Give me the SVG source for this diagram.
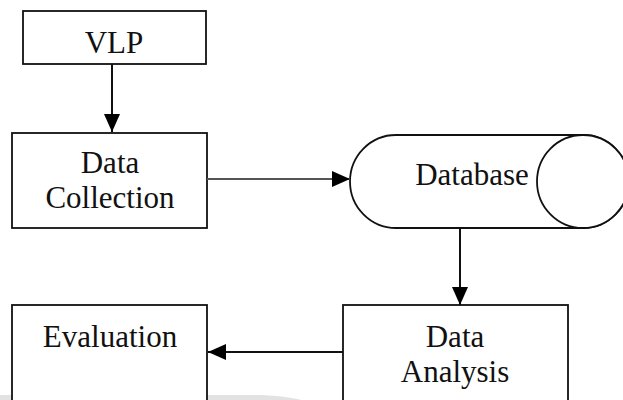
<svg xmlns="http://www.w3.org/2000/svg" width="623" height="400" viewBox="0 0 623 400">
<style>
.box{fill:#fff;stroke:#111;stroke-width:1.8}
.lbl{font-family:'Liberation Serif','Times New Roman','DejaVu Serif',serif;font-size:31px;fill:#111;text-anchor:middle}
.conn{stroke:#111;stroke-width:2;fill:none}
.wm{fill:#e2e2e2}
</style>
<defs>
<marker id="ah" viewBox="0 0 18 16" refX="18" refY="8" markerWidth="18" markerHeight="16" markerUnits="userSpaceOnUse" orient="auto">
<path d="M0,0 L18,8 L0,16 Z" fill="#000"/>
</marker>
</defs>
<rect width="623" height="400" fill="#fff"/>
<g id="watermark">
<rect class="wm" x="0" y="395" width="122" height="5"/>
<path class="wm" d="M166,395 L262,395 Q285,396 302,400 L166,400 Z"/>
</g>
<g id="vlp" font-family="Liberation Serif, serif">
<rect class="box" x="23" y="11" width="183" height="53"/>
<text class="lbl" x="114" y="53">VLP</text>
</g>
<g id="data-collection" font-family="Liberation Serif, serif">
<rect class="box" x="12" y="133" width="195" height="95"/>
<text class="lbl" x="110" y="173">Data</text>
<text class="lbl" x="110" y="208">Collection</text>
</g>
<g id="database" font-family="Liberation Serif, serif">
<path class="box" d="M396,135 L583,135 A46,46.5 0 0 1 583,228 L396,228 A46,46.5 0 0 1 396,135 Z"/>
<ellipse class="box" cx="583" cy="181.5" rx="46" ry="46.5"/>
<text class="lbl" x="472" y="185">Database</text>
</g>
<g id="evaluation" font-family="Liberation Serif, serif">
<rect class="box" x="12" y="305" width="195" height="110"/>
<text class="lbl" x="110" y="347">Evaluation</text>
</g>
<g id="data-analysis" font-family="Liberation Serif, serif">
<rect class="box" x="343" y="305" width="225" height="110"/>
<text class="lbl" x="455" y="347">Data</text>
<text class="lbl" x="455" y="382">Analysis</text>
</g>
<g id="connectors">
<line class="conn" x1="112" y1="64" x2="112" y2="132" marker-end="url(#ah)"/>
<line class="conn" x1="207" y1="179" x2="350" y2="179" marker-end="url(#ah)" style="stroke:#555"/>
<line class="conn" x1="460" y1="228" x2="460" y2="305" marker-end="url(#ah)"/>
<line class="conn" x1="343" y1="352" x2="208" y2="352" marker-end="url(#ah)"/>
</g>
</svg>
